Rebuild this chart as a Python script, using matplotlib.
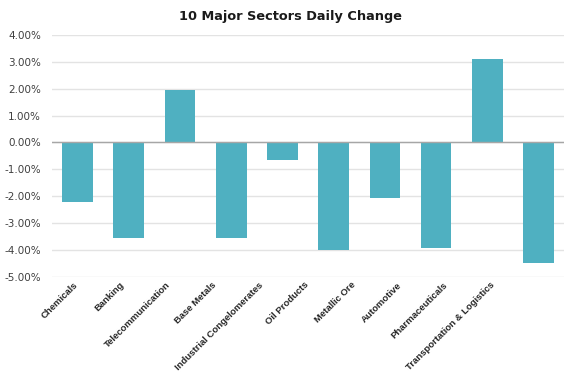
import numpy as np
import matplotlib.pyplot as plt
from matplotlib.ticker import FuncFormatter

sectors = ["Chemicals", "Banking", "Telecommunication", "Base Metals",
           "Industrial Congelomerates", "Oil Products", "Metallic Ore",
           "Automotive", "Pharmaceuticals", "Transportation & Logistics"]
changes = [-2.22, -3.57, 1.95, -3.55, -0.65, -3.99, -2.07, -3.94, 3.10, -4.50]
yticks = [-5, -4, -3, -2, -1, 0, 1, 2, 3, 4]

fig = plt.figure(figsize=(5.78, 3.84), dpi=100)
ax = fig.add_axes([0.09, 0.279, 0.886, 0.630])

x = np.arange(len(sectors))
ax.bar(x, changes, width=0.6, color="#4FB0C1", zorder=3)
ax.axhline(0, color="#A6A6A6", lw=1, zorder=4)

ax.set_ylim(-5, 4)
ax.set_xlim(-0.5, len(sectors) - 0.5)
ax.set_yticks(yticks)
ax.yaxis.set_major_formatter(FuncFormatter(lambda v, p: f"{v:.2f}%"))
ax.grid(axis="y", color="#E3E3E3", lw=1, zorder=0)
ax.tick_params(axis="y", length=0, labelsize=7.5, labelcolor="#404040", pad=8)
ax.set_xticks([])

# category labels sit a little tighter than the bars in the original
for i, name in enumerate(sectors):
    ax.text(i * 0.904 - 0.09, -5.13, name, rotation=45, ha="right", va="top",
            rotation_mode="anchor", fontsize=6.8, fontweight="bold",
            color="#262626", family="Liberation Sans")
for s in ax.spines.values():
    s.set_visible(False)

fig.suptitle("10 Major Sectors Daily Change", x=0.502, y=0.975,
             fontsize=9.3, fontweight="bold", color="#1a1a1a")

fig.savefig("out.png", dpi=100)
